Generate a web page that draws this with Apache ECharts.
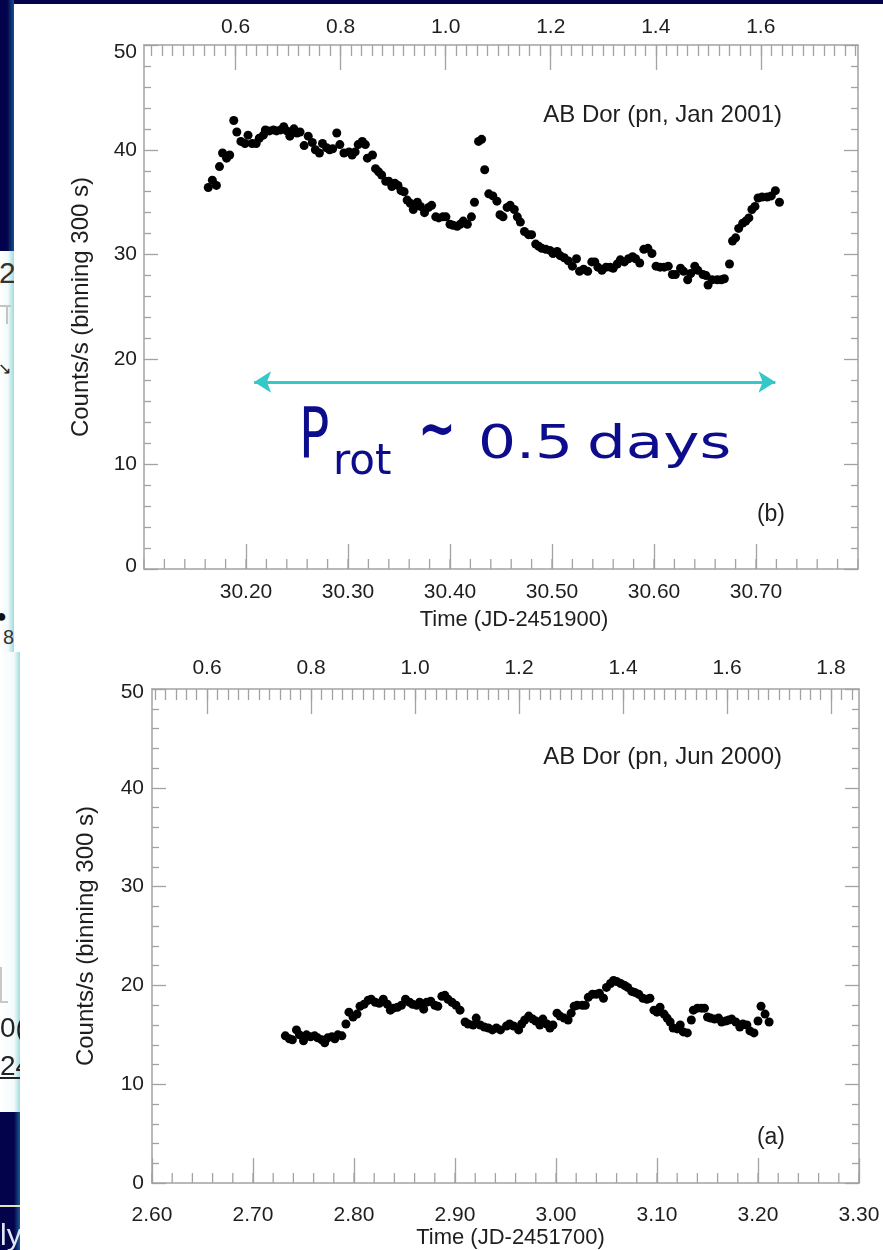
<!DOCTYPE html>
<html>
<head>
<meta charset="utf-8">
<script src="https://cdn.jsdelivr.net/npm/echarts@6/dist/echarts.min.js"></script>
<style>
html,body{margin:0;padding:0;background:#ffffff;width:883px;height:1250px;overflow:hidden;}
#chart{position:absolute;left:0;top:0;width:883px;height:1250px;}
.deco{position:absolute;overflow:hidden;}
.t{position:absolute;font-family:"Liberation Sans",Arial,sans-serif;white-space:nowrap;}
</style>
</head>
<body>
<div id="chart"></div>

<!-- slide background fragments -->
<div class="deco" style="left:0;top:0;width:883px;height:4px;background:#03034c;"></div>
<div class="deco" style="left:0;top:0;width:14px;height:251px;background:linear-gradient(to right,#03034c 0%,#03034c 50%,#154f8e 100%);"></div>
<div class="deco" style="left:0;top:251px;width:14px;height:401px;background:linear-gradient(to right,#ffffff 0%,#f2fafa 55%,#9fdcdc 100%);">
  <div class="t" style="left:-1px;top:5px;font-size:30px;color:#333;">2(</div>
  <div style="position:absolute;left:0;top:54px;width:11px;height:2px;background:#c4c4c4;"></div>
  <div style="position:absolute;left:6px;top:54px;width:2px;height:19px;background:#c4c4c4;"></div>
  <div class="t" style="left:-2px;top:108px;font-size:16px;color:#222;">&#8600;</div>
  <div class="t" style="left:-4px;top:355px;font-size:18px;color:#111;">&#9679;</div>
  <div class="t" style="left:3px;top:375px;font-size:20px;color:#333;">8</div>
</div>
<div class="deco" style="left:0;top:652px;width:20px;height:460px;background:linear-gradient(to right,#ffffff 0%,#f4fbfb 70%,#9fdcdc 100%);">
  <div style="position:absolute;left:0;top:315px;width:2px;height:35px;background:#c8c8c8;"></div>
  <div style="position:absolute;left:0;top:349px;width:8px;height:2px;background:#c8c8c8;"></div>
  <div class="t" style="left:0;top:360px;font-size:28px;color:#222;">0(</div>
  <div class="t" style="left:0;top:398px;font-size:28px;color:#222;text-decoration:underline;">24</div>
</div>
<div class="deco" style="left:0;top:1112px;width:20px;height:138px;background:linear-gradient(to right,#03034c 0%,#03034c 70%,#1a5a96 100%);">
  <div style="position:absolute;left:0;top:93px;width:20px;height:2px;background:#e6e2b4;"></div>
  <div class="t" style="left:0;top:106px;font-size:30px;color:#dde6f4;">ly</div>
</div>

<script>
// ---------------- data ----------------
// Panel (b): AB Dor, pn, Jan 2001  (Time in JD-2451900, counts/s)
const topTimes = [
  30.163,30.167,30.171,30.174,30.177,30.181,30.184,30.188,30.191,30.195,
  30.199,30.202,30.206,30.210,30.213,30.217,30.219,30.223,30.227,30.230,
  30.234,30.237,30.240,30.243,30.247,30.250,30.253,30.257,30.261,30.265,
  30.268,30.272,30.275,30.279,30.282,30.285,30.289,30.292,30.296,30.301,
  30.304,30.307,30.310,30.314,30.317,30.319,30.324,30.327,30.330,30.333,
  30.337,30.340,30.343,30.346,30.349,30.352,30.355,30.358,30.361,30.364,
  30.368,30.371,30.375,30.379,30.382,30.386,30.389,30.393,30.396,30.400,
  30.403,30.407,30.410,30.413,30.417,30.421,30.424,30.428,30.431,30.434,
  30.438,30.442,30.446,30.449,30.452,30.456,30.459,30.463,30.466,30.469,
  30.473,30.477,30.480,30.484,30.487,30.490,30.494,30.498,30.501,30.505,
  30.508,30.512,30.516,30.520,30.524,30.527,30.531,30.535,30.539,30.542,
  30.545,30.549,30.553,30.557,30.560,30.564,30.567,30.571,30.575,30.579,
  30.582,30.586,30.590,30.594,30.598,30.602,30.606,30.610,30.614,30.618,
  30.621,30.626,30.629,30.633,30.636,30.640,30.643,30.648,30.651,30.653,
  30.657,30.662,30.666,30.669,30.674,30.677,30.680,30.683,30.687,30.690,
  30.693,30.696,30.699,30.702,30.706,30.711,30.715,30.719,30.723
];
const topCounts = [
  36.4,37.1,36.6,38.4,39.7,39.2,39.5,42.8,41.7,40.8,
  40.6,41.4,40.6,40.6,41.1,41.4,41.9,41.8,41.9,41.8,
  41.9,42.2,41.8,41.3,42.0,41.6,41.7,40.4,41.3,40.7,
  40.0,39.7,40.6,40.2,40.0,40.1,41.6,40.5,39.7,39.8,
  39.5,39.8,40.5,40.8,40.5,39.2,39.5,38.2,37.9,37.6,
  37.0,37.0,36.5,36.8,36.6,36.1,36.0,35.2,34.9,34.3,
  35.0,34.6,34.0,34.5,34.7,33.6,33.5,33.6,33.6,32.9,
  32.8,32.7,32.9,33.2,32.9,33.6,35.0,40.8,41.0,38.1,
  35.8,35.6,35.1,33.8,33.6,34.5,34.7,34.3,33.6,33.1,
  32.2,31.9,31.9,31.0,30.8,30.6,30.5,30.4,30.1,30.3,
  29.9,29.7,29.4,28.9,29.6,28.4,28.6,28.4,29.3,29.3,
  28.8,28.5,28.8,28.8,28.7,29.1,29.5,29.3,29.6,29.8,
  29.6,29.2,30.5,30.6,30.1,28.9,28.8,28.8,28.9,28.1,
  28.1,28.7,28.4,27.6,28.2,28.9,28.5,28.1,28.0,27.1,
  27.6,27.6,27.6,27.7,29.1,31.3,31.6,32.5,33.0,33.2,
  33.5,34.3,34.6,35.4,35.5,35.5,35.6,36.1,35.0
];

// Panel (a): AB Dor, pn, Jun 2000  (Time in JD-2451700, counts/s)
const botTimes = [
  2.732,2.736,2.739,2.743,2.746,2.750,2.753,2.757,2.761,2.764,
  2.768,2.771,2.774,2.778,2.781,2.784,2.788,2.792,2.795,2.799,
  2.803,2.806,2.810,2.814,2.817,2.821,2.825,2.829,2.833,2.836,
  2.839,2.843,2.847,2.851,2.855,2.858,2.862,2.865,2.869,2.872,
  2.876,2.880,2.883,2.887,2.890,2.893,2.897,2.901,2.905,2.910,
  2.913,2.918,2.921,2.925,2.929,2.933,2.937,2.941,2.945,2.951,
  2.954,2.958,2.963,2.966,2.969,2.973,2.977,2.980,2.984,2.987,
  2.991,2.994,2.997,3.001,3.004,3.008,3.012,3.015,3.018,3.021,
  3.026,3.029,3.032,3.036,3.040,3.043,3.047,3.050,3.054,3.057,
  3.060,3.064,3.068,3.071,3.075,3.078,3.082,3.086,3.090,3.093,
  3.097,3.100,3.103,3.107,3.110,3.113,3.116,3.120,3.123,3.126,
  3.130,3.134,3.136,3.140,3.144,3.147,3.150,3.153,3.157,3.161,
  3.164,3.168,3.171,3.174,3.178,3.182,3.185,3.189,3.192,3.196,
  3.200,3.203,3.207,3.211
];
const botCounts = [
  14.9,14.6,14.5,15.5,15.0,14.4,15.0,14.8,14.9,14.7,
  14.5,14.2,14.7,14.8,14.6,15.0,14.9,16.1,17.3,16.8,
  17.1,17.9,18.1,18.5,18.6,18.3,18.2,18.6,18.1,17.5,
  17.7,17.8,18.0,18.6,18.3,18.1,18.0,18.3,17.6,18.3,
  18.4,18.0,17.9,18.9,19.0,18.6,18.3,18.0,17.5,16.3,
  16.1,16.0,16.7,16.0,15.8,15.7,15.5,15.7,15.5,15.9,
  16.1,15.9,15.5,16.1,16.5,16.9,16.6,16.4,16.0,16.6,
  16.1,15.7,16.0,17.2,16.9,16.7,16.5,17.2,17.9,18.0,
  18.0,18.0,18.8,19.1,19.1,19.2,18.7,19.8,20.2,20.5,
  20.4,20.2,20.0,19.8,19.4,19.3,19.1,18.7,18.6,18.7,
  17.5,17.3,17.8,17.1,16.7,16.3,15.7,15.6,16.0,15.3,
  15.2,16.5,17.5,17.7,17.7,17.7,16.8,16.7,16.6,16.7,
  16.3,16.4,16.5,16.6,16.3,15.8,16.1,16.0,15.4,15.2,
  16.4,17.9,17.1,16.3
];

// axis ranges and tick labels
const topTimeRange = [30.10, 30.80];
const botTimeRange = [2.60, 3.30];
const countRange = [0, 50];
const topPhaseLabels = [0.6, 0.8, 1.0, 1.2, 1.4, 1.6];
const botPhaseLabels = [0.6, 0.8, 1.0, 1.2, 1.4, 1.6, 1.8];
const TIME_MINOR_STEP = 0.02;   // days between minor time ticks
const PHASE_MINOR_STEP = 0.02;  // phase between minor phase ticks
// rotational ephemeris used for the upper (phase) axes
const PERIOD = 0.5148;
const topPhaseZero = 29.881;
const botPhaseZero = 2.3456;
// period arrow (data coords, top panel)
const arrowStart = [30.208, 17.84];
const arrowEnd = [30.719, 17.84];

// ---------------- helpers ----------------
const AXIS = '#a2a2a2';
const TXT = '#1e1e1e';
const FONT = '"Liberation Sans", Arial, Helvetica, sans-serif';

function phaseOf(t, zero) { return (t - zero) / PERIOD; }
function stepValues(lo, hi, step) {
  const out = [];
  for (let k = Math.ceil(lo / step - 1e-6); k * step <= hi + 1e-6; k++) out.push(Math.round(k * step * 100) / 100);
  return out;
}

function timeAxis(grid, range, name, labelMargin, nameGap, hideEnds, nameShift) {
  return {
    gridIndex: grid, type: 'value', position: 'bottom',
    min: range[0], max: range[1], interval: 0.1,
    axisLine: { show: true, onZero: false, lineStyle: { color: AXIS, width: 1.5 } },
    axisTick: { show: true, inside: true, length: 25, lineStyle: { color: AXIS, width: 1.3 } },
    splitLine: { show: false },
    axisLabel: {
      show: true, margin: labelMargin, color: TXT, fontFamily: FONT, fontSize: 21,
      showMinLabel: !hideEnds, showMaxLabel: !hideEnds,
      formatter: v => v.toFixed(2)
    },
    name: name, nameLocation: 'middle', nameGap: nameGap,
    nameTextStyle: { color: TXT, fontFamily: FONT, fontSize: 22, padding: [0, 0, 0, nameShift] }
  };
}
function phaseMajorAxis(grid, range, zero, labels, labelMargin) {
  const lo = phaseOf(range[0], zero), hi = phaseOf(range[1], zero);
  return {
    gridIndex: grid, type: 'value', position: 'top', min: lo, max: hi,
    axisLine: { show: true, onZero: false, lineStyle: { color: AXIS, width: 1.5 } },
    axisTick: { show: true, inside: true, length: 25, customValues: labels, lineStyle: { color: AXIS, width: 1.3 } },
    splitLine: { show: false },
    axisLabel: { show: true, margin: labelMargin, color: TXT, fontFamily: FONT, fontSize: 21,
      customValues: labels, formatter: v => v.toFixed(1) }
  };
}
function phaseMinorAxis(grid, range, zero) {
  const lo = phaseOf(range[0], zero), hi = phaseOf(range[1], zero);
  return {
    gridIndex: grid, type: 'value', position: 'top', min: lo, max: hi,
    axisLine: { show: false, onZero: false },
    axisTick: { show: true, inside: true, length: 11, customValues: stepValues(lo, hi, PHASE_MINOR_STEP), lineStyle: { color: AXIS, width: 1.3 } },
    splitLine: { show: false },
    axisLabel: { show: false }
  };
}
function countAxes(grid, labelMargin, nameGap, hiPad, loPad) {
  const base = {
    gridIndex: grid, type: 'value', min: countRange[0], max: countRange[1], interval: 10,
    axisLine: { show: true, onZero: false, lineStyle: { color: AXIS, width: 1.5 } },
    axisTick: { show: true, inside: true, length: 14, lineStyle: { color: AXIS, width: 1.3 } },
    minorTick: { show: true, splitNumber: 5, length: 7, lineStyle: { color: AXIS, width: 1.3 } },
    splitLine: { show: false }, minorSplitLine: { show: false }
  };
  const rich = {
    hi: { padding: [hiPad, 0, 0, 0], color: TXT, fontFamily: FONT, fontSize: 21 },
    lo: { padding: [0, 0, loPad, 0], color: TXT, fontFamily: FONT, fontSize: 21 }
  };
  return [
    Object.assign({}, base, {
      position: 'left',
      axisLabel: {
        show: true, margin: labelMargin, color: TXT, fontFamily: FONT, fontSize: 21,
        formatter: v => v === countRange[1] ? '{hi|' + v + '}' : (v === countRange[0] ? '{lo|' + v + '}' : String(v)),
        rich: rich
      },
      name: 'Counts/s (binning 300 s)', nameLocation: 'middle', nameGap: nameGap,
      nameTextStyle: { color: TXT, fontFamily: FONT, fontSize: 24 }
    }),
    Object.assign({}, base, { position: 'right', axisLabel: { show: false } })
  ];
}
function hiddenY(grid) {
  return { gridIndex: grid, type: 'value', min: countRange[0], max: countRange[1], show: false };
}
// minor time ticks along the lower axis, placed through the time scale at counts = 0
function minorTimeTickSeries(xIdx, yIdx, range) {
  return {
    type: 'scatter', xAxisIndex: xIdx, yAxisIndex: yIdx, silent: true, z: 1,
    data: stepValues(range[0], range[1], TIME_MINOR_STEP).map(t => [t, countRange[0]]),
    symbol: 'rect', symbolSize: [1.3, 10], symbolOffset: [0, -5],
    itemStyle: { color: AXIS, opacity: 1 }, clip: false, tooltip: { show: false }
  };
}

const topData = topTimes.map((t, i) => [t, topCounts[i]]);
const botData = botTimes.map((t, i) => [t, botCounts[i]]);

const topRect = { left: 144, top: 45, width: 714, height: 524 };
const botRect = { left: 152, top: 689, width: 707, height: 501 };

const xAxes = [
  timeAxis(0, topTimeRange, 'Time (JD-2451900)', 13, 40, true, 26),   // 0
  phaseMajorAxis(0, topTimeRange, topPhaseZero, topPhaseLabels, 7),    // 1
  timeAxis(1, botTimeRange, 'Time (JD-2451700)', 22, 42, false, 10),   // 2
  phaseMajorAxis(1, botTimeRange, botPhaseZero, botPhaseLabels, 10),   // 3
  phaseMinorAxis(2, topTimeRange, topPhaseZero),                       // 4
  phaseMinorAxis(3, botTimeRange, botPhaseZero)                        // 5
];
const yAxes = [...countAxes(0, 7, 51, 14, 5), ...countAxes(1, 8, 54, 6, 0), hiddenY(2), hiddenY(3)];

const PROT = '#0c0c8c';
const DOT = { color: '#000000', opacity: 1 };
const option = {
  animation: false,
  backgroundColor: 'transparent',
  grid: [topRect, botRect, topRect, botRect],
  xAxis: xAxes,
  yAxis: yAxes,
  series: [
    minorTimeTickSeries(0, 0, topTimeRange),
    minorTimeTickSeries(2, 2, botTimeRange),
    {
      type: 'scatter', xAxisIndex: 0, yAxisIndex: 0, data: topData, z: 3,
      symbol: 'circle', symbolSize: 9, itemStyle: DOT,
      markLine: {
        silent: true, symbol: ['arrow', 'arrow'], symbolSize: [16, 17],
        lineStyle: { color: '#35c8c8', width: 3, type: 'solid', opacity: 1 },
        label: { show: false },
        data: [[{ coord: arrowStart }, { coord: arrowEnd }]]
      }
    },
    {
      type: 'scatter', xAxisIndex: 2, yAxisIndex: 2, data: botData, z: 3,
      symbol: 'circle', symbolSize: 9, itemStyle: DOT
    }
  ],
  graphic: [
    { type: 'text', x: 782, y: 115, style: { text: 'AB Dor (pn, Jan 2001)', fill: TXT, font: '24px ' + FONT, align: 'right', verticalAlign: 'middle' } },
    { type: 'text', x: 785, y: 515, style: { text: '(b)', fill: TXT, font: '23px ' + FONT, align: 'right', verticalAlign: 'middle' } },
    { type: 'text', x: 782, y: 757, style: { text: 'AB Dor (pn, Jun 2000)', fill: TXT, font: '24px ' + FONT, align: 'right', verticalAlign: 'middle' } },
    { type: 'text', x: 785, y: 1138, style: { text: '(a)', fill: TXT, font: '23px ' + FONT, align: 'right', verticalAlign: 'middle' } },
    { type: 'text', x: 299, y: 439, scaleX: 0.72, style: { text: 'P', fill: PROT, font: '70px "DejaVu Sans"', align: 'left', verticalAlign: 'middle' } },
    { type: 'text', x: 333, y: 463, style: { text: 'rot', fill: PROT, font: '42px "DejaVu Sans"', align: 'left', verticalAlign: 'middle' } },
    { type: 'text', x: 418, y: 433, scaleX: 0.78, style: { text: '~', fill: PROT, font: 'bold 58px "DejaVu Sans"', align: 'left', verticalAlign: 'middle' } },
    { type: 'text', x: 478, y: 446, scaleX: 1.3, style: { text: '0.5', fill: PROT, font: '46px "DejaVu Sans"', align: 'left', verticalAlign: 'middle' } },
    { type: 'text', x: 587, y: 446, scaleX: 1.33, style: { text: 'days', fill: PROT, font: '46px "DejaVu Sans"', align: 'left', verticalAlign: 'middle' } }
  ]
};

const chart = echarts.init(document.getElementById('chart'), null, { renderer: 'canvas' });
chart.setOption(option);
</script>
</body>
</html>
